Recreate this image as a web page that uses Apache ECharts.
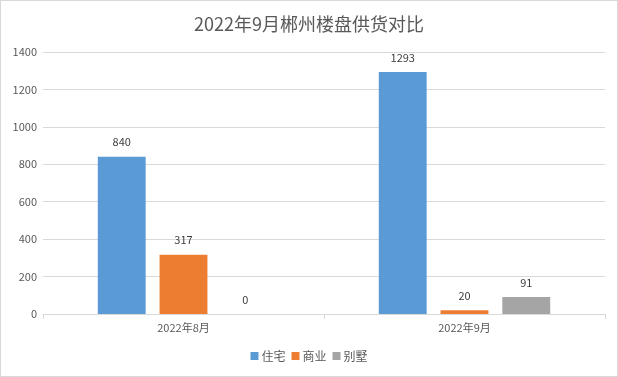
<!DOCTYPE html>
<html><head><meta charset="utf-8">
<script src="https://cdn.jsdelivr.net/npm/echarts@6/dist/echarts.min.js"></script>
<style>html,body{margin:0;padding:0;background:#fff}#c{position:absolute;left:0;top:0;width:616px;height:375px;border:1px solid #d9d9d9}</style>
</head><body><div id="c"></div>
<script>
const categories = ['2022年8月', '2022年9月'];
const seriesNames = ['住宅', '商业', '别墅'];
const residential = [840, 1293];
const commercial = [317, 20];
const villa = [0, 91];
const yTicks = [0, 200, 400, 600, 800, 1000, 1200, 1400];
const colors = ['#5b9bd5', '#ed7d31', '#a5a5a5'];
const font = '"Noto Sans CJK SC", "Microsoft YaHei", sans-serif';
const chart = echarts.init(document.getElementById('c'), null, {renderer: 'canvas'});
const values = [residential, commercial, villa];
chart.setOption({
  animation: false,
  textStyle: {fontFamily: font},
  title: {text: '2022年9月郴州楼盘供货对比', left: 'center', top: 9,
    textStyle: {fontSize: 18, fontWeight: 'normal', color: '#595959', fontFamily: font}},
  legend: {bottom: 9, left: 'center', itemWidth: 8, itemHeight: 8, itemGap: 6,
    icon: 'rect', textStyle: {fontSize: 12, color: '#595959', fontFamily: font, padding: [0,0,0,-2]},
    data: seriesNames},
  grid: {left: 42, right: 12, top: 51, bottom: 62, containLabel: false},
  xAxis: {type: 'category', data: categories,
    axisLine: {lineStyle: {color: '#d9d9d9'}},
    axisTick: {show: true, length: 5, lineStyle: {color: '#d9d9d9'}},
    axisLabel: {fontSize: 11, color: '#595959', margin: 8, fontFamily: font}},
  yAxis: {type: 'value', min: yTicks[0], max: yTicks[yTicks.length-1], interval: 200,
    axisLine: {show: false}, axisTick: {show: false},
    splitLine: {lineStyle: {color: '#d9d9d9'}},
    axisLabel: {fontSize: 11, color: '#595959', margin: 6, fontFamily: font, formatter: v => String(v)}},
  series: seriesNames.map((n, i) => ({
    name: n, type: 'bar', data: values[i], barGap: '29%', barCategoryGap: '39%',
    itemStyle: {color: colors[i]},
    label: {show: true, position: 'top', distance: 9, fontSize: 11, color: '#404040', fontFamily: font}
  }))
});
</script></body></html>
